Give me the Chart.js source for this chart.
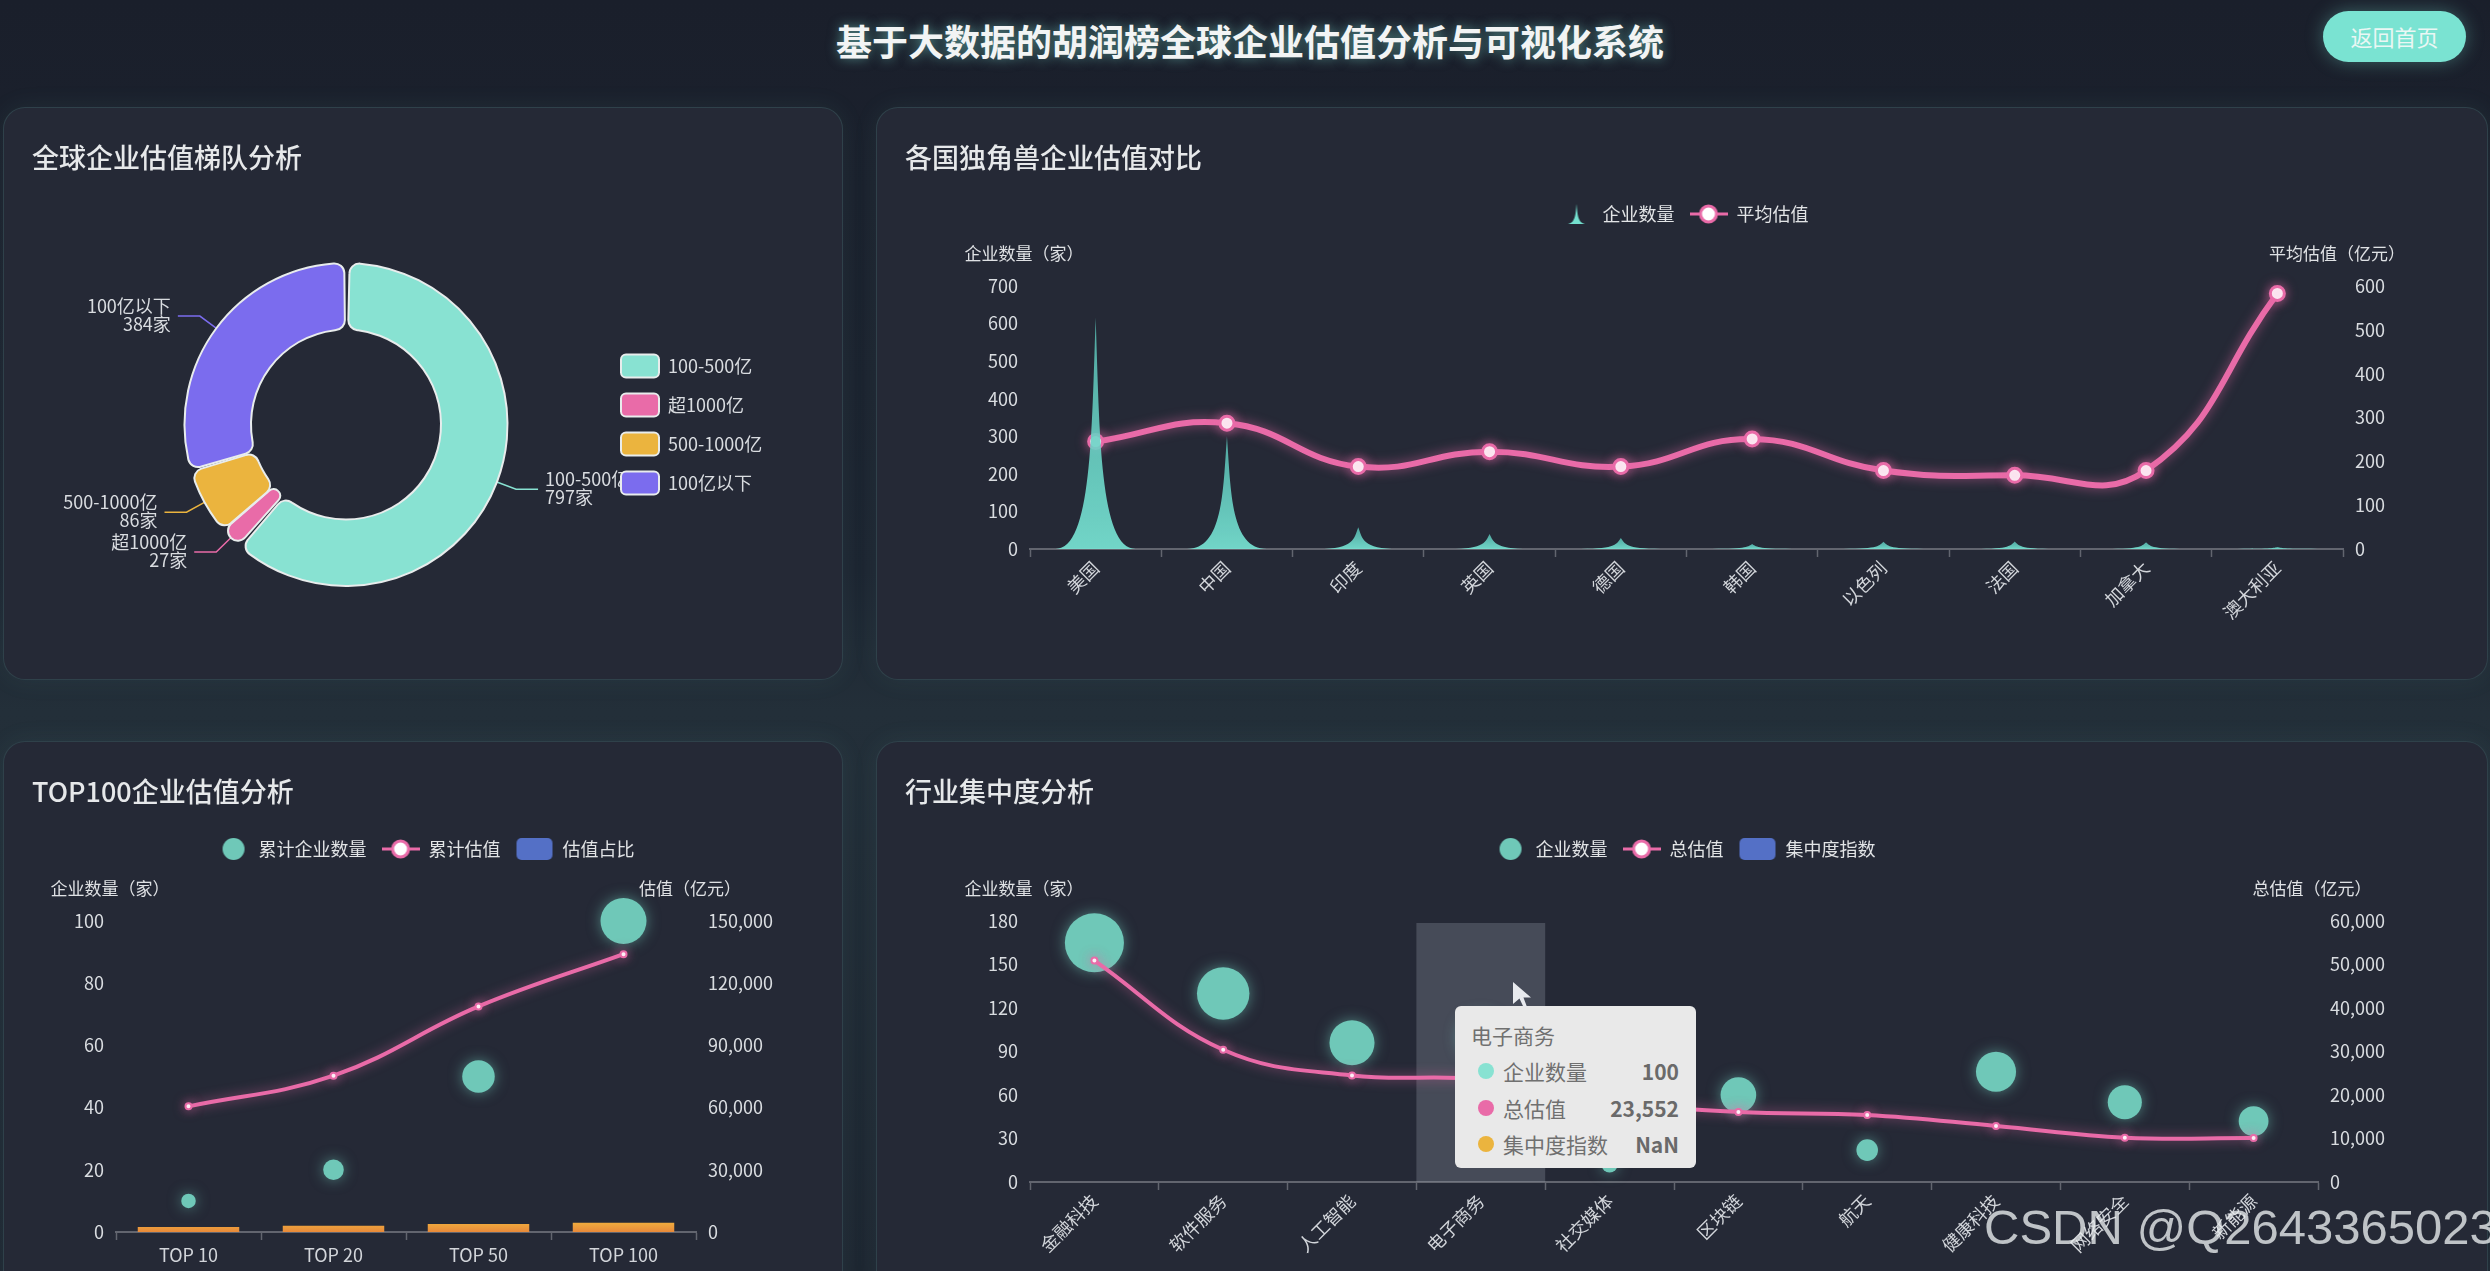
<!DOCTYPE html>
<html lang="zh-CN">
<head>
    <meta charset="UTF-8">
    <title>基于大数据的胡润榜全球企业估值分析与可视化系统</title>
    <script src="https://cdn.jsdelivr.net/npm/chart.js"></script>
    <style>
        html, body {
            margin: 0;
            width: 2490px;
            height: 1271px;
            overflow: hidden;
            font-family: "Noto Sans CJK SC", sans-serif;
        }

        body {
            position: relative;
            background: linear-gradient(180deg, #1a1f2b 0%, #1d2531 45%, #232f39 56%, #1e2631 100%);
        }

        h1 {
            position: absolute;
            left: 0;
            top: 14px;
            width: 2500px;
            margin: 0;
            text-align: center;
            font-size: 36px;
            line-height: 52px;
            font-weight: 700;
            color: #f2f4f4;
            text-shadow: 0 0 12px rgba(130, 230, 215, 0.55);
        }

        .home-btn {
            position: absolute;
            left: 2323px;
            top: 11px;
            width: 143px;
            height: 51px;
            line-height: 51px;
            text-align: center;
            font-size: 22px;
            color: #eaf7f4;
            background: #7ae3d2;
            border-radius: 26px;
            box-shadow: 0 0 18px rgba(122, 227, 210, 0.35);
        }

        .panel {
            position: absolute;
            box-sizing: border-box;
            background: #252936;
            border: 1px solid rgba(110, 210, 195, 0.14);
            border-radius: 22px;
            box-shadow: 0 0 26px rgba(110, 210, 195, 0.08);
        }

        .panel h2 {
            position: absolute;
            left: 28px;
            top: 29px;
            margin: 0;
            font-size: 27px;
            line-height: 40px;
            font-weight: 500;
            color: #e6e8ea;
        }

        .panel canvas {
            position: absolute;
            left: 0;
            top: 0;
        }

        #tooltip {
            position: absolute;
            left: 1455px;
            top: 1006px;
            width: 241px;
            height: 162px;
            box-sizing: border-box;
            padding: 11px 17px 0 16px;
            background: #e9e9e9;
            border-radius: 6px;
            color: #707070;
            font-size: 21px;
        }

        #tooltip .name {
            line-height: 36px;
        }

        #tooltip .row {
            display: flex;
            align-items: center;
            height: 36.5px;
        }

        #tooltip .dot {
            width: 16px;
            height: 16px;
            border-radius: 50%;
            margin: 0 9px 0 7px;
        }

        #tooltip .val {
            margin-left: auto;
            font-weight: 700;
            color: #6a6a6a;
        }

        #cursor {
            position: absolute;
            left: 1513px;
            top: 982px;
            width: 18px;
            height: 25px;
            background: #e8eaee;
            clip-path: polygon(0 0, 100% 62%, 58% 62%, 78% 100%, 58% 100%, 36% 66%, 0 88%);
        }

        #watermark {
            position: absolute;
            left: 1984px;
            top: 1199px;
            font-family: "Liberation Sans", Arial, sans-serif;
            font-size: 49px;
            line-height: 56px;
            color: rgba(235, 238, 240, 0.78);
            white-space: nowrap;
        }
    </style>
</head>
<body>
    <h1>基于大数据的胡润榜全球企业估值分析与可视化系统</h1>
    <div class="home-btn">返回首页</div>

    <div class="panel" style="left:3px;top:107px;width:840px;height:573px">
        <canvas id="tierChart" width="838" height="571"></canvas>
        <h2>全球企业估值梯队分析</h2>
    </div>
    <div class="panel" style="left:876px;top:107px;width:1612px;height:573px">
        <canvas id="countryChart" width="1610" height="571"></canvas>
        <h2>各国独角兽企业估值对比</h2>
    </div>
    <div class="panel" style="left:3px;top:741px;width:840px;height:560px">
        <canvas id="topChart" width="838" height="530"></canvas>
        <h2>TOP100企业估值分析</h2>
    </div>
    <div class="panel" style="left:876px;top:741px;width:1612px;height:560px">
        <canvas id="industryChart" width="1610" height="530"></canvas>
        <h2>行业集中度分析</h2>
    </div>

    <div id="tooltip"></div>
    <div id="cursor"></div>
    <div id="watermark">CSDN @Q2643365023</div>

    <script>
        // tiers
        const tierLabels = ['100-500亿', '超1000亿', '500-1000亿', '100亿以下'];
        const tierCounts = [797, 27, 86, 384];

        // countries
        const countries = ['美国', '中国', '印度', '英国', '德国', '韩国', '以色列', '法国', '加拿大', '澳大利亚'];
        const countryCounts = [616, 300, 58, 40, 29, 13, 19, 20, 18, 5];
        const countryAvgValue = [245, 287, 188, 222, 188, 251, 179, 168, 179, 583];

        // top 100
        const topGroups = ['TOP 10', 'TOP 20', 'TOP 50', 'TOP 100'];
        const topCounts = [10, 20, 50, 100];
        const topValues = [60600, 75400, 108800, 134000];
        const topShare = [1.6, 2.0, 2.6, 3.0];

        // industries
        const industries = ['金融科技', '软件服务', '人工智能', '电子商务', '社交媒体', '区块链', '航天', '健康科技', '网络安全', '新能源'];
        const industryCounts = [165, 130, 96, 100, 12, 60, 22, 76, 55, 42];
        const industryValues = [50900, 30400, 24500, 23552, 18500, 16100, 15400, 12900, 10200, 10100];
        const industryIndex = [null, null, null, null, null, null, null, null, null, null];

        const activeIndustry = 3;

        const MINT = '#88e2d2';
        const PINK = '#e96ba8';
        const YELLOW = '#ebb43e';
        const PURPLE = '#7b6cee';
        const BUBBLE = '#6fc8b8';
        const BLUE = '#5470c6';
        const TEXT = '#d9dce0';
        const AXIS = '#62656f';
        const FONT = '"Noto Sans CJK SC", sans-serif';

        Chart.defaults.font.family = FONT;
        Chart.defaults.font.size = 18;
        Chart.defaults.color = TEXT;
        Chart.defaults.animation = false;

        // legend icons
        function makeIcon(draw) {
            const c = document.createElement('canvas');
            c.width = 38;
            c.height = 24;
            draw(c.getContext('2d'));
            return c;
        }
        const lineIcon = makeIcon(ctx => {
            ctx.strokeStyle = PINK;
            ctx.lineWidth = 3;
            ctx.beginPath();
            ctx.moveTo(0, 12);
            ctx.lineTo(38, 12);
            ctx.stroke();
            ctx.fillStyle = '#fff';
            ctx.beginPath();
            ctx.arc(19, 12, 8, 0, Math.PI * 2);
            ctx.fill();
            ctx.stroke();
        });
        const bubbleIcon = makeIcon(ctx => {
            ctx.fillStyle = BUBBLE;
            ctx.beginPath();
            ctx.arc(22, 12, 11, 0, Math.PI * 2);
            ctx.fill();
        });
        const rectIcon = makeIcon(ctx => {
            ctx.fillStyle = BLUE;
            ctx.beginPath();
            ctx.roundRect(1, 1, 36, 22, 5);
            ctx.fill();
        });
        const spikeIcon = makeIcon(ctx => {
            ctx.fillStyle = '#74e0cf';
            spikePath(ctx, 21, 22, 2, 20);
            ctx.fill();
        });

        function spikePath(ctx, cx, base, top, width) {
            const h = base - top;
            const x0 = cx - width / 2;
            const u = width / 10;
            ctx.beginPath();
            ctx.moveTo(x0, base);
            ctx.lineTo(x0 + 10 * u, base);
            ctx.bezierCurveTo(x0 + 5.5 * u, base, x0 + 5.5 * u, base - h / 2, cx, top);
            ctx.bezierCurveTo(x0 + 4.5 * u, base - h / 2, x0 + 4.5 * u, base, x0, base);
            ctx.closePath();
        }

        function iconLegendLabels(chart) {
            return chart.data.datasets.map((d, i) => ({
                text: d.label,
                pointStyle: d.legendIcon,
                fontColor: '#e2e4e6',
                fillStyle: BLUE,
                strokeStyle: BLUE,
                lineWidth: 0,
                datasetIndex: i
            }));
        }

        // echarts style glow on lines and bubbles
        const glowPlugin = {
            id: 'glow',
            beforeDatasetDraw(chart, args) {
                const glow = chart.data.datasets[args.index].glow;
                if (!glow) return;
                chart.ctx.save();
                chart.ctx.shadowColor = glow.color;
                chart.ctx.shadowBlur = glow.blur;
            },
            afterDatasetDraw(chart, args) {
                if (chart.data.datasets[args.index].glow) chart.ctx.restore();
            }
        };

        // horizontal axis names above the two y axes
        const axisNamesPlugin = {
            id: 'axisNames',
            afterDraw(chart, args, opts) {
                const ctx = chart.ctx;
                const area = chart.chartArea;
                ctx.save();
                ctx.font = '17px ' + FONT;
                ctx.fillStyle = '#dfe1e4';
                ctx.textAlign = 'center';
                ctx.textBaseline = 'middle';
                ctx.fillText(opts.left, area.left - 6, area.top - 32);
                ctx.fillText(opts.right, area.right - 6, area.top - 32);
                ctx.restore();
            }
        };

        // forces the legend box so the plot lands where it should
        const legendSizePlugin = {
            id: 'legendSize',
            afterInit(chart, args, opts) {
                const fit = chart.legend.fit;
                chart.legend.fit = function () {
                    fit.call(this);
                    if (opts.width) this.width = opts.width;
                    if (opts.height) this.height = opts.height;
                };
            }
        };

        // pictorial spikes, shape taken from the hidden bars
        const spikePlugin = {
            id: 'spikes',
            afterDatasetsDraw(chart) {
                const ctx = chart.ctx;
                const meta = chart.getDatasetMeta(0);
                meta.data.forEach(bar => {
                    const g = ctx.createLinearGradient(0, bar.y, 0, bar.base);
                    g.addColorStop(0, 'rgba(88, 190, 180, 0.85)');
                    g.addColorStop(1, 'rgba(120, 228, 212, 0.92)');
                    ctx.fillStyle = g;
                    spikePath(ctx, bar.x, bar.base, bar.y, 80);
                    ctx.fill();
                });
            }
        };

        // leader lines of the doughnut, drawn before the legend layer
        const tierLabelPlugin = {
            id: 'tierLabels',
            beforeDraw(chart) {
                const ctx = chart.ctx;
                chart.getDatasetMeta(0).data.forEach((arc, i) => {
                    const mid = (arc.startAngle + arc.endAngle) / 2;
                    const dirX = Math.cos(mid);
                    const dirY = Math.sin(mid);
                    const side = dirX < 0 ? -1 : 1;
                    const R = arc.outerRadius;
                    const ex = arc.x + dirX * (R + 22);
                    const ey = arc.y + dirY * (R + 22);
                    const lx = ex + side * 22;
                    ctx.save();
                    ctx.strokeStyle = arc.options.backgroundColor;
                    ctx.lineWidth = 1.5;
                    ctx.beginPath();
                    ctx.moveTo(arc.x + dirX * R, arc.y + dirY * R);
                    ctx.lineTo(ex, ey);
                    ctx.lineTo(lx, ey);
                    ctx.stroke();
                    ctx.font = '18px ' + FONT;
                    ctx.fillStyle = '#d9dce0';
                    ctx.textAlign = side < 0 ? 'right' : 'left';
                    ctx.textBaseline = 'middle';
                    ctx.fillText(tierLabels[i], lx + side * 7, ey - 10);
                    ctx.fillText(tierCounts[i] + '家', lx + side * 7, ey + 8);
                    ctx.restore();
                });
            }
        };

        // axis pointer shadow of the hovered category
        const bandPlugin = {
            id: 'band',
            beforeDatasetsDraw(chart, args, opts) {
                const x = chart.scales.x;
                const area = chart.chartArea;
                const w = x.getPixelForValue(1) - x.getPixelForValue(0);
                chart.ctx.save();
                chart.ctx.fillStyle = 'rgba(150, 155, 170, 0.3)';
                chart.ctx.fillRect(x.getPixelForValue(opts.index) - w / 2, area.top + 2, w, area.bottom - area.top - 2);
                chart.ctx.restore();
            }
        };

        const formatComma = v => v.toLocaleString('en-US');

        function xAxis(rotation, padding, height) {
            return {
                type: 'category',
                offset: true,
                border: { color: AXIS, width: 2 },
                grid: { drawOnChartArea: false, color: AXIS, offset: true, tickLength: 8, tickWidth: 1.5 },
                ticks: { minRotation: rotation, maxRotation: rotation, padding: padding, autoSkip: false, color: '#d2d5da' },
                afterFit: s => { s.height = height; }
            };
        }

        function yAxis(position, max, step, width, format) {
            return {
                type: 'linear',
                position: position,
                min: 0,
                max: max,
                border: { display: false },
                grid: { display: false, drawTicks: false },
                ticks: { stepSize: step, padding: 12, color: '#d9dce0', callback: format || (v => v) },
                afterFit: s => { s.width = width; }
            };
        }

        function bubbleData(labels, values) {
            return labels.map((name, i) => ({ x: name, y: values[i], r: 2.3 * Math.sqrt(values[i]) }));
        }

        function comboOptions(names, xOpts, yOpts, y1Opts, legendTop, legendHeight, extra) {
            return {
                responsive: false,
                events: [],
                layout: { padding: { top: legendTop } },
                scales: { x: xOpts, y: yOpts, y1: y1Opts },
                plugins: Object.assign({
                    axisNames: names,
                    legendSize: { height: legendHeight },
                    tooltip: { enabled: false },
                    legend: {
                        position: 'top',
                        labels: {
                            usePointStyle: true,
                            pointStyleWidth: 38,
                            padding: 15,
                            generateLabels: iconLegendLabels
                        }
                    }
                }, extra || {})
            };
        }

        // 全球企业估值梯队
        new Chart(document.getElementById('tierChart'), {
            type: 'doughnut',
            data: {
                labels: tierLabels,
                datasets: [{
                    data: tierCounts,
                    backgroundColor: [MINT, PINK, YELLOW, PURPLE],
                    borderColor: '#e8ecec',
                    borderWidth: 2,
                    borderRadius: 10,
                    spacing: 3
                }]
            },
            options: {
                responsive: false,
                events: [],
                radius: 160,
                cutout: 90,
                layout: { padding: { left: 83, top: 160, bottom: 98, right: 37 } },
                plugins: {
                    legendSize: { width: 200 },
                    tooltip: { enabled: false },
                    legend: {
                        position: 'right',
                        labels: {
                            boxWidth: 38,
                            boxHeight: 23,
                            padding: 16,
                            generateLabels: chart => tierLabels.map((text, i) => ({
                                text: text,
                                fillStyle: chart.data.datasets[0].backgroundColor[i],
                                strokeStyle: '#e8ecec',
                                lineWidth: 2,
                                borderRadius: 5,
                                fontColor: '#d9dce0',
                                index: i
                            }))
                        }
                    }
                }
            },
            plugins: [tierLabelPlugin, legendSizePlugin]
        });

        // 各国独角兽
        new Chart(document.getElementById('countryChart'), {
            data: {
                labels: countries,
                datasets: [
                    {
                        type: 'bar',
                        label: '企业数量',
                        data: countryCounts,
                        yAxisID: 'y',
                        backgroundColor: 'transparent',
                        legendIcon: spikeIcon
                    },
                    {
                        type: 'line',
                        label: '平均估值',
                        data: countryAvgValue,
                        yAxisID: 'y1',
                        tension: 0.45,
                        clip: false,
                        borderColor: PINK,
                        borderWidth: 6,
                        pointRadius: 7,
                        pointBorderWidth: 3,
                        pointBackgroundColor: '#fff',
                        pointBorderColor: PINK,
                        legendIcon: lineIcon,
                        glow: { color: 'rgba(233, 107, 168, 0.6)', blur: 12 }
                    }
                ]
            },
            options: comboOptions(
                { left: '企业数量（家）', right: '平均估值（亿元）' },
                xAxis(45, 0, 130),
                yAxis('left', 700, 100, 153),
                yAxis('right', 600, 100, 144),
                82, 96
            ),
            plugins: [glowPlugin, axisNamesPlugin, legendSizePlugin, spikePlugin]
        });

        // TOP100
        new Chart(document.getElementById('topChart'), {
            data: {
                labels: topGroups,
                datasets: [
                    {
                        type: 'bubble',
                        label: '累计企业数量',
                        data: bubbleData(topGroups, topCounts),
                        yAxisID: 'y',
                        clip: false,
                        order: 2,
                        backgroundColor: BUBBLE,
                        borderWidth: 0,
                        legendIcon: bubbleIcon,
                        glow: { color: 'rgba(111, 200, 184, 0.55)', blur: 14 }
                    },
                    {
                        type: 'line',
                        label: '累计估值',
                        data: topValues,
                        yAxisID: 'y1',
                        tension: 0.4,
                        clip: false,
                        order: 1,
                        borderColor: PINK,
                        borderWidth: 4,
                        pointRadius: 3,
                        pointBorderWidth: 2,
                        pointBackgroundColor: '#fff',
                        pointBorderColor: PINK,
                        legendIcon: lineIcon,
                        glow: { color: 'rgba(233, 107, 168, 0.6)', blur: 12 }
                    },
                    {
                        type: 'bar',
                        label: '估值占比',
                        data: topShare,
                        yAxisID: 'y',
                        order: 3,
                        barPercentage: 0.7,
                        categoryPercentage: 1,
                        backgroundColor: ctx => {
                            const area = ctx.chart.chartArea;
                            if (!area) return '#ec9c3c';
                            const g = ctx.chart.ctx.createLinearGradient(0, area.bottom - 10, 0, area.bottom);
                            g.addColorStop(0, '#f0ae3e');
                            g.addColorStop(1, '#e8893a');
                            return g;
                        },
                        legendIcon: rectIcon
                    }
                ]
            },
            options: comboOptions(
                { left: '企业数量（家）', right: '估值（亿元）' },
                xAxis(0, 4, 40),
                yAxis('left', 100, 20, 112),
                yAxis('right', 150000, 30000, 146, formatComma),
                83, 96
            ),
            plugins: [glowPlugin, axisNamesPlugin, legendSizePlugin]
        });

        // 行业集中度
        new Chart(document.getElementById('industryChart'), {
            data: {
                labels: industries,
                datasets: [
                    {
                        type: 'bubble',
                        label: '企业数量',
                        data: bubbleData(industries, industryCounts),
                        yAxisID: 'y',
                        clip: false,
                        order: 2,
                        backgroundColor: BUBBLE,
                        borderWidth: 0,
                        legendIcon: bubbleIcon,
                        glow: { color: 'rgba(111, 200, 184, 0.55)', blur: 14 }
                    },
                    {
                        type: 'line',
                        label: '总估值',
                        data: industryValues,
                        yAxisID: 'y1',
                        tension: 0.4,
                        clip: false,
                        order: 1,
                        borderColor: PINK,
                        borderWidth: 4,
                        pointRadius: 3,
                        pointBorderWidth: 2,
                        pointBackgroundColor: '#fff',
                        pointBorderColor: PINK,
                        legendIcon: lineIcon,
                        glow: { color: 'rgba(233, 107, 168, 0.6)', blur: 12 }
                    },
                    {
                        type: 'bar',
                        label: '集中度指数',
                        data: industryIndex,
                        yAxisID: 'y',
                        order: 3,
                        backgroundColor: BLUE,
                        legendIcon: rectIcon
                    }
                ]
            },
            options: comboOptions(
                { left: '企业数量（家）', right: '总估值（亿元）' },
                xAxis(45, 0, 90),
                yAxis('left', 180, 30, 153),
                yAxis('right', 60000, 10000, 169, formatComma),
                83, 96,
                { band: { index: activeIndustry } }
            ),
            plugins: [bandPlugin, glowPlugin, axisNamesPlugin, legendSizePlugin]
        });

        // tooltip shown in the screenshot, hover on 电子商务
        const tipRows = [
            ['企业数量', MINT, industryCounts[activeIndustry]],
            ['总估值', PINK, formatComma(industryValues[activeIndustry])],
            ['集中度指数', YELLOW, 'NaN']
        ];
        document.getElementById('tooltip').innerHTML =
            '<div class="name">' + industries[activeIndustry] + '</div>' +
            tipRows.map(r => '<div class="row"><span class="dot" style="background:' + r[1] + '"></span>' +
                r[0] + '<span class="val">' + r[2] + '</span></div>').join('');
    </script>
</body>
</html>
